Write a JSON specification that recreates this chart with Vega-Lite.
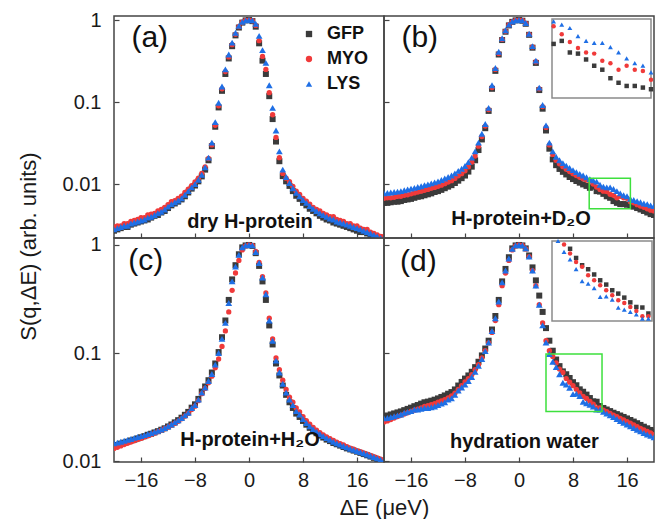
{
"$schema": "https://vega.github.io/schema/vega-lite/v6.json",
"background": "white",
"padding": {"left": 16, "top": 9, "right": 0, "bottom": 0},
"config": {
 "font": "Liberation Sans",
 "view": {"stroke": "#444", "strokeWidth": 1.5},
 "axis": {"domain": false, "grid": false, "ticks": true, "tickSize": -5, "tickColor": "#444", "tickWidth": 1.2, "labelFont": "Liberation Sans", "labelFontSize": 20, "labelColor": "#1a1a1a", "labelOverlap": false, "titleFont": "Liberation Sans", "titleFontSize": 22, "titleFontWeight": "normal", "titleColor": "#1a1a1a"},
 "axisLeft": {"labelPadding": 18},
 "axisBottom": {"labelPadding": 13},
 "legend": {"labelFont": "Liberation Sans", "labelFontSize": 18, "labelFontWeight": "bold", "labelColor": "#111", "symbolSize": 40, "rowPadding": 7, "labelOffset": 9, "padding": 0, "symbolStrokeWidth": 0}
},
"datasets": {
 "boxes": [
  {"p": "b", "x0": 10.4, "x1": 16.5, "y0": 0.005, "y1": 0.0118},
  {"p": "d", "x0": 4.0, "x1": 12.3, "y0": 0.0288, "y1": 0.098}
 ],
 "labels": [
  {"p": "a", "tag": "(a)", "name": "dry H-protein"},
  {"p": "b", "tag": "(b)", "name": "H-protein+D₂O"},
  {"p": "c", "tag": "(c)", "name": "H-protein+H₂O"},
  {"p": "d", "tag": "(d)", "name": "hydration water"}
 ],
 "curves": [
  {"p":"a","x":-20,"GFP":0.0027,"MYO":0.0030,"LYS":0.0028},
  {"p":"a","x":-19.5,"GFP":0.0028,"MYO":0.0031,"LYS":0.0029},
  {"p":"a","x":-19,"GFP":0.0029,"MYO":0.0031,"LYS":0.0030},
  {"p":"a","x":-18.5,"GFP":0.0030,"MYO":0.0033,"LYS":0.0031},
  {"p":"a","x":-18,"GFP":0.0030,"MYO":0.0033,"LYS":0.0031},
  {"p":"a","x":-17.5,"GFP":0.0032,"MYO":0.0035,"LYS":0.0033},
  {"p":"a","x":-17,"GFP":0.0033,"MYO":0.0036,"LYS":0.0034},
  {"p":"a","x":-16.5,"GFP":0.0034,"MYO":0.0037,"LYS":0.0035},
  {"p":"a","x":-16,"GFP":0.0035,"MYO":0.0039,"LYS":0.0036},
  {"p":"a","x":-15.5,"GFP":0.0036,"MYO":0.0039,"LYS":0.0037},
  {"p":"a","x":-15,"GFP":0.0037,"MYO":0.0042,"LYS":0.0039},
  {"p":"a","x":-14.5,"GFP":0.0039,"MYO":0.0043,"LYS":0.0040},
  {"p":"a","x":-14,"GFP":0.0041,"MYO":0.0044,"LYS":0.0042},
  {"p":"a","x":-13.5,"GFP":0.0042,"MYO":0.0047,"LYS":0.0044},
  {"p":"a","x":-13,"GFP":0.0045,"MYO":0.0049,"LYS":0.0046},
  {"p":"a","x":-12.5,"GFP":0.0047,"MYO":0.0052,"LYS":0.0049},
  {"p":"a","x":-12,"GFP":0.0051,"MYO":0.0056,"LYS":0.0053},
  {"p":"a","x":-11.5,"GFP":0.0055,"MYO":0.0061,"LYS":0.0057},
  {"p":"a","x":-11,"GFP":0.0058,"MYO":0.0063,"LYS":0.0060},
  {"p":"a","x":-10.5,"GFP":0.0061,"MYO":0.0067,"LYS":0.0063},
  {"p":"a","x":-10,"GFP":0.0065,"MYO":0.0071,"LYS":0.0067},
  {"p":"a","x":-9.5,"GFP":0.0071,"MYO":0.0079,"LYS":0.0074},
  {"p":"a","x":-9,"GFP":0.0079,"MYO":0.0087,"LYS":0.0082},
  {"p":"a","x":-8.5,"GFP":0.0088,"MYO":0.0096,"LYS":0.0091},
  {"p":"a","x":-8,"GFP":0.0096,"MYO":0.0106,"LYS":0.0100},
  {"p":"a","x":-7.5,"GFP":0.0108,"MYO":0.0118,"LYS":0.0113},
  {"p":"a","x":-7,"GFP":0.0124,"MYO":0.0135,"LYS":0.0130},
  {"p":"a","x":-6.5,"GFP":0.0150,"MYO":0.0162,"LYS":0.0160},
  {"p":"a","x":-6,"GFP":0.0195,"MYO":0.0205,"LYS":0.0210},
  {"p":"a","x":-5.5,"GFP":0.029,"MYO":0.030,"LYS":0.032},
  {"p":"a","x":-5,"GFP":0.050,"MYO":0.052,"LYS":0.057},
  {"p":"a","x":-4.5,"GFP":0.086,"MYO":0.090,"LYS":0.098},
  {"p":"a","x":-4,"GFP":0.137,"MYO":0.145,"LYS":0.155},
  {"p":"a","x":-3.5,"GFP":0.22,"MYO":0.235,"LYS":0.25},
  {"p":"a","x":-3,"GFP":0.34,"MYO":0.355,"LYS":0.38},
  {"p":"a","x":-2.5,"GFP":0.48,"MYO":0.50,"LYS":0.53},
  {"p":"a","x":-2,"GFP":0.65,"MYO":0.67,"LYS":0.70},
  {"p":"a","x":-1.5,"GFP":0.81,"MYO":0.83,"LYS":0.85},
  {"p":"a","x":-1,"GFP":0.93,"MYO":0.94,"LYS":0.95},
  {"p":"a","x":-0.5,"GFP":0.99,"MYO":0.99,"LYS":0.99},
  {"p":"a","x":0,"GFP":1,"MYO":1,"LYS":1},
  {"p":"a","x":0.5,"GFP":0.97,"MYO":0.98,"LYS":0.99},
  {"p":"a","x":1,"GFP":0.83,"MYO":0.86,"LYS":0.90},
  {"p":"a","x":1.5,"GFP":0.52,"MYO":0.56,"LYS":0.64},
  {"p":"a","x":2,"GFP":0.32,"MYO":0.36,"LYS":0.43},
  {"p":"a","x":2.5,"GFP":0.22,"MYO":0.25,"LYS":0.30},
  {"p":"a","x":3,"GFP":0.118,"MYO":0.13,"LYS":0.16},
  {"p":"a","x":3.5,"GFP":0.062,"MYO":0.070,"LYS":0.085},
  {"p":"a","x":4,"GFP":0.033,"MYO":0.037,"LYS":0.045},
  {"p":"a","x":4.5,"GFP":0.019,"MYO":0.021,"LYS":0.025},
  {"p":"a","x":5,"GFP":0.0125,"MYO":0.0135,"LYS":0.0150},
  {"p":"a","x":5.5,"GFP":0.0108,"MYO":0.0118,"LYS":0.0122},
  {"p":"a","x":6,"GFP":0.0095,"MYO":0.0107,"LYS":0.0103},
  {"p":"a","x":6.5,"GFP":0.0082,"MYO":0.0094,"LYS":0.0089},
  {"p":"a","x":7,"GFP":0.0072,"MYO":0.0082,"LYS":0.0078},
  {"p":"a","x":7.5,"GFP":0.0066,"MYO":0.0075,"LYS":0.0071},
  {"p":"a","x":8,"GFP":0.0059,"MYO":0.0067,"LYS":0.0064},
  {"p":"a","x":8.5,"GFP":0.0055,"MYO":0.0062,"LYS":0.0059},
  {"p":"a","x":9,"GFP":0.0050,"MYO":0.0057,"LYS":0.0054},
  {"p":"a","x":9.5,"GFP":0.0047,"MYO":0.0052,"LYS":0.0050},
  {"p":"a","x":10,"GFP":0.0044,"MYO":0.0049,"LYS":0.0047},
  {"p":"a","x":10.5,"GFP":0.0041,"MYO":0.0047,"LYS":0.0044},
  {"p":"a","x":11,"GFP":0.0039,"MYO":0.0044,"LYS":0.0042},
  {"p":"a","x":11.5,"GFP":0.0037,"MYO":0.0042,"LYS":0.0040},
  {"p":"a","x":12,"GFP":0.0036,"MYO":0.0040,"LYS":0.0038},
  {"p":"a","x":12.5,"GFP":0.0034,"MYO":0.0040,"LYS":0.0037},
  {"p":"a","x":13,"GFP":0.0033,"MYO":0.0037,"LYS":0.0035},
  {"p":"a","x":13.5,"GFP":0.0032,"MYO":0.0036,"LYS":0.0034},
  {"p":"a","x":14,"GFP":0.0031,"MYO":0.0035,"LYS":0.0033},
  {"p":"a","x":14.5,"GFP":0.0030,"MYO":0.0033,"LYS":0.0032},
  {"p":"a","x":15,"GFP":0.0029,"MYO":0.0033,"LYS":0.0031},
  {"p":"a","x":15.5,"GFP":0.0028,"MYO":0.0031,"LYS":0.0030},
  {"p":"a","x":16,"GFP":0.0027,"MYO":0.0031,"LYS":0.0029},
  {"p":"a","x":16.5,"GFP":0.0026,"MYO":0.0029,"LYS":0.0028},
  {"p":"a","x":17,"GFP":0.0026,"MYO":0.0028,"LYS":0.0027},
  {"p":"a","x":17.5,"GFP":0.0025,"MYO":0.0028,"LYS":0.0026},
  {"p":"a","x":18,"GFP":0.0024,"MYO":0.0026,"LYS":0.0025},
  {"p":"a","x":18.5,"GFP":0.0023,"MYO":0.0025,"LYS":0.0024},
  {"p":"a","x":19,"GFP":0.0022,"MYO":0.0024,"LYS":0.0023},
  {"p":"a","x":19.5,"GFP":0.0021,"MYO":0.0023,"LYS":0.0022},
  {"p":"a","x":20,"GFP":0.0021,"MYO":0.0023,"LYS":0.0022},

  {"p":"b","x":-20,"GFP":0.0059,"MYO":0.0067,"LYS":0.0077},
  {"p":"b","x":-19.5,"GFP":0.0059,"MYO":0.0068,"LYS":0.0078},
  {"p":"b","x":-19,"GFP":0.0060,"MYO":0.0068,"LYS":0.0079},
  {"p":"b","x":-18.5,"GFP":0.0061,"MYO":0.0069,"LYS":0.0080},
  {"p":"b","x":-18,"GFP":0.0061,"MYO":0.0071,"LYS":0.0081},
  {"p":"b","x":-17.5,"GFP":0.0062,"MYO":0.0071,"LYS":0.0082},
  {"p":"b","x":-17,"GFP":0.0064,"MYO":0.0073,"LYS":0.0084},
  {"p":"b","x":-16.5,"GFP":0.0065,"MYO":0.0074,"LYS":0.0086},
  {"p":"b","x":-16,"GFP":0.0066,"MYO":0.0076,"LYS":0.0088},
  {"p":"b","x":-15.5,"GFP":0.0068,"MYO":0.0078,"LYS":0.0090},
  {"p":"b","x":-15,"GFP":0.0070,"MYO":0.0080,"LYS":0.0092},
  {"p":"b","x":-14.5,"GFP":0.0071,"MYO":0.0082,"LYS":0.0094},
  {"p":"b","x":-14,"GFP":0.0073,"MYO":0.0084,"LYS":0.0097},
  {"p":"b","x":-13.5,"GFP":0.0075,"MYO":0.0086,"LYS":0.0099},
  {"p":"b","x":-13,"GFP":0.0077,"MYO":0.0089,"LYS":0.0102},
  {"p":"b","x":-12.5,"GFP":0.0080,"MYO":0.0091,"LYS":0.0105},
  {"p":"b","x":-12,"GFP":0.0082,"MYO":0.0094,"LYS":0.0108},
  {"p":"b","x":-11.5,"GFP":0.0085,"MYO":0.0097,"LYS":0.0112},
  {"p":"b","x":-11,"GFP":0.0089,"MYO":0.0101,"LYS":0.0117},
  {"p":"b","x":-10.5,"GFP":0.0093,"MYO":0.0106,"LYS":0.0122},
  {"p":"b","x":-10,"GFP":0.0097,"MYO":0.0110,"LYS":0.0127},
  {"p":"b","x":-9.5,"GFP":0.0103,"MYO":0.0117,"LYS":0.0135},
  {"p":"b","x":-9,"GFP":0.0110,"MYO":0.0126,"LYS":0.0145},
  {"p":"b","x":-8.5,"GFP":0.0118,"MYO":0.0134,"LYS":0.0154},
  {"p":"b","x":-8,"GFP":0.0127,"MYO":0.0145,"LYS":0.0166},
  {"p":"b","x":-7.5,"GFP":0.0142,"MYO":0.0162,"LYS":0.0185},
  {"p":"b","x":-7,"GFP":0.0163,"MYO":0.0185,"LYS":0.021},
  {"p":"b","x":-6.5,"GFP":0.0195,"MYO":0.022,"LYS":0.025},
  {"p":"b","x":-6,"GFP":0.026,"MYO":0.029,"LYS":0.032},
  {"p":"b","x":-5.5,"GFP":0.035,"MYO":0.038,"LYS":0.041},
  {"p":"b","x":-5,"GFP":0.048,"MYO":0.051,"LYS":0.054},
  {"p":"b","x":-4.5,"GFP":0.078,"MYO":0.081,"LYS":0.085},
  {"p":"b","x":-4,"GFP":0.145,"MYO":0.15,"LYS":0.16},
  {"p":"b","x":-3.5,"GFP":0.24,"MYO":0.25,"LYS":0.26},
  {"p":"b","x":-3,"GFP":0.38,"MYO":0.39,"LYS":0.41},
  {"p":"b","x":-2.5,"GFP":0.57,"MYO":0.58,"LYS":0.60},
  {"p":"b","x":-2,"GFP":0.72,"MYO":0.73,"LYS":0.75},
  {"p":"b","x":-1.5,"GFP":0.86,"MYO":0.87,"LYS":0.88},
  {"p":"b","x":-1,"GFP":0.95,"MYO":0.95,"LYS":0.96},
  {"p":"b","x":-0.5,"GFP":0.99,"MYO":0.99,"LYS":0.99},
  {"p":"b","x":0,"GFP":1,"MYO":1,"LYS":1},
  {"p":"b","x":0.5,"GFP":0.98,"MYO":0.99,"LYS":0.99},
  {"p":"b","x":1,"GFP":0.90,"MYO":0.91,"LYS":0.92},
  {"p":"b","x":1.5,"GFP":0.66,"MYO":0.67,"LYS":0.68},
  {"p":"b","x":2,"GFP":0.46,"MYO":0.47,"LYS":0.48},
  {"p":"b","x":2.5,"GFP":0.30,"MYO":0.31,"LYS":0.32},
  {"p":"b","x":3,"GFP":0.14,"MYO":0.145,"LYS":0.15},
  {"p":"b","x":3.5,"GFP":0.083,"MYO":0.088,"LYS":0.092},
  {"p":"b","x":4,"GFP":0.045,"MYO":0.049,"LYS":0.052},
  {"p":"b","x":4.5,"GFP":0.027,"MYO":0.030,"LYS":0.032},
  {"p":"b","x":5,"GFP":0.020,"MYO":0.023,"LYS":0.025},
  {"p":"b","x":5.5,"GFP":0.0170,"MYO":0.0195,"LYS":0.0215},
  {"p":"b","x":6,"GFP":0.0153,"MYO":0.0177,"LYS":0.0195},
  {"p":"b","x":6.5,"GFP":0.0141,"MYO":0.0163,"LYS":0.0180},
  {"p":"b","x":7,"GFP":0.0131,"MYO":0.0152,"LYS":0.0168},
  {"p":"b","x":7.5,"GFP":0.0122,"MYO":0.0142,"LYS":0.0157},
  {"p":"b","x":8,"GFP":0.0115,"MYO":0.0134,"LYS":0.0148},
  {"p":"b","x":8.5,"GFP":0.0109,"MYO":0.0127,"LYS":0.0140},
  {"p":"b","x":9,"GFP":0.0104,"MYO":0.0121,"LYS":0.0133},
  {"p":"b","x":9.5,"GFP":0.0099,"MYO":0.0116,"LYS":0.0127},
  {"p":"b","x":10,"GFP":0.0095,"MYO":0.0112,"LYS":0.0121},
  {"p":"b","x":10.5,"GFP":0.0090,"MYO":0.0109,"LYS":0.0115},
  {"p":"b","x":11,"GFP":0.0093,"MYO":0.0100,"LYS":0.0111},
  {"p":"b","x":11.5,"GFP":0.0082,"MYO":0.0092,"LYS":0.0107},
  {"p":"b","x":12,"GFP":0.0081,"MYO":0.0086,"LYS":0.0098},
  {"p":"b","x":12.5,"GFP":0.0076,"MYO":0.0082,"LYS":0.0093},
  {"p":"b","x":13,"GFP":0.0071,"MYO":0.0081,"LYS":0.0091},
  {"p":"b","x":13.5,"GFP":0.0068,"MYO":0.0075,"LYS":0.0091},
  {"p":"b","x":14,"GFP":0.0062,"MYO":0.0073,"LYS":0.0087},
  {"p":"b","x":14.5,"GFP":0.0059,"MYO":0.0068,"LYS":0.0082},
  {"p":"b","x":15,"GFP":0.0057,"MYO":0.0071,"LYS":0.0077},
  {"p":"b","x":15.5,"GFP":0.0057,"MYO":0.0068,"LYS":0.0073},
  {"p":"b","x":16,"GFP":0.0056,"MYO":0.0067,"LYS":0.0071},
  {"p":"b","x":16.5,"GFP":0.0055,"MYO":0.0061,"LYS":0.0066},
  {"p":"b","x":17,"GFP":0.0053,"MYO":0.0059,"LYS":0.0064},
  {"p":"b","x":17.5,"GFP":0.0051,"MYO":0.0056,"LYS":0.0062},
  {"p":"b","x":18,"GFP":0.0049,"MYO":0.0054,"LYS":0.0060},
  {"p":"b","x":18.5,"GFP":0.0047,"MYO":0.0052,"LYS":0.0058},
  {"p":"b","x":19,"GFP":0.0045,"MYO":0.0050,"LYS":0.0057},
  {"p":"b","x":19.5,"GFP":0.0043,"MYO":0.0048,"LYS":0.0055},
  {"p":"b","x":20,"GFP":0.0042,"MYO":0.0047,"LYS":0.0054},

  {"p":"c","x":-20,"GFP":0.0138,"MYO":0.0131,"LYS":0.0146},
  {"p":"c","x":-19.5,"GFP":0.0141,"MYO":0.0134,"LYS":0.0148},
  {"p":"c","x":-19,"GFP":0.0145,"MYO":0.0138,"LYS":0.0151},
  {"p":"c","x":-18.5,"GFP":0.0148,"MYO":0.0142,"LYS":0.0154},
  {"p":"c","x":-18,"GFP":0.0151,"MYO":0.0146,"LYS":0.0157},
  {"p":"c","x":-17.5,"GFP":0.0155,"MYO":0.0150,"LYS":0.0160},
  {"p":"c","x":-17,"GFP":0.0158,"MYO":0.0154,"LYS":0.0164},
  {"p":"c","x":-16.5,"GFP":0.0162,"MYO":0.0158,"LYS":0.0167},
  {"p":"c","x":-16,"GFP":0.0166,"MYO":0.0162,"LYS":0.0170},
  {"p":"c","x":-15.5,"GFP":0.0170,"MYO":0.0167,"LYS":0.0174},
  {"p":"c","x":-15,"GFP":0.0175,"MYO":0.0171,"LYS":0.0178},
  {"p":"c","x":-14.5,"GFP":0.0179,"MYO":0.0176,"LYS":0.0182},
  {"p":"c","x":-14,"GFP":0.0184,"MYO":0.0181,"LYS":0.0186},
  {"p":"c","x":-13.5,"GFP":0.0189,"MYO":0.0187,"LYS":0.0190},
  {"p":"c","x":-13,"GFP":0.0195,"MYO":0.0193,"LYS":0.0196},
  {"p":"c","x":-12.5,"GFP":0.0201,"MYO":0.0199,"LYS":0.0202},
  {"p":"c","x":-12,"GFP":0.0209,"MYO":0.0206,"LYS":0.0210},
  {"p":"c","x":-11.5,"GFP":0.0218,"MYO":0.0214,"LYS":0.0218},
  {"p":"c","x":-11,"GFP":0.0228,"MYO":0.0223,"LYS":0.0228},
  {"p":"c","x":-10.5,"GFP":0.0239,"MYO":0.0233,"LYS":0.0238},
  {"p":"c","x":-10,"GFP":0.0252,"MYO":0.0246,"LYS":0.0250},
  {"p":"c","x":-9.5,"GFP":0.0268,"MYO":0.0260,"LYS":0.0265},
  {"p":"c","x":-9,"GFP":0.0285,"MYO":0.0276,"LYS":0.0280},
  {"p":"c","x":-8.5,"GFP":0.0312,"MYO":0.0300,"LYS":0.0310},
  {"p":"c","x":-8,"GFP":0.0335,"MYO":0.0322,"LYS":0.0330},
  {"p":"c","x":-7.5,"GFP":0.0376,"MYO":0.0362,"LYS":0.0370},
  {"p":"c","x":-7,"GFP":0.044,"MYO":0.042,"LYS":0.043},
  {"p":"c","x":-6.5,"GFP":0.049,"MYO":0.047,"LYS":0.048},
  {"p":"c","x":-6,"GFP":0.056,"MYO":0.053,"LYS":0.055},
  {"p":"c","x":-5.5,"GFP":0.066,"MYO":0.061,"LYS":0.064},
  {"p":"c","x":-5,"GFP":0.080,"MYO":0.073,"LYS":0.078},
  {"p":"c","x":-4.5,"GFP":0.102,"MYO":0.088,"LYS":0.100},
  {"p":"c","x":-4,"GFP":0.140,"MYO":0.115,"LYS":0.135},
  {"p":"c","x":-3.5,"GFP":0.20,"MYO":0.16,"LYS":0.19},
  {"p":"c","x":-3,"GFP":0.31,"MYO":0.24,"LYS":0.29},
  {"p":"c","x":-2.5,"GFP":0.48,"MYO":0.38,"LYS":0.46},
  {"p":"c","x":-2,"GFP":0.65,"MYO":0.55,"LYS":0.63},
  {"p":"c","x":-1.5,"GFP":0.82,"MYO":0.72,"LYS":0.81},
  {"p":"c","x":-1,"GFP":0.95,"MYO":0.90,"LYS":0.95},
  {"p":"c","x":-0.5,"GFP":0.99,"MYO":0.98,"LYS":0.99},
  {"p":"c","x":0,"GFP":1,"MYO":1,"LYS":1},
  {"p":"c","x":0.5,"GFP":0.98,"MYO":0.99,"LYS":0.99},
  {"p":"c","x":1,"GFP":0.84,"MYO":0.87,"LYS":0.86},
  {"p":"c","x":1.5,"GFP":0.64,"MYO":0.69,"LYS":0.68},
  {"p":"c","x":2,"GFP":0.46,"MYO":0.51,"LYS":0.50},
  {"p":"c","x":2.5,"GFP":0.31,"MYO":0.36,"LYS":0.35},
  {"p":"c","x":3,"GFP":0.18,"MYO":0.21,"LYS":0.20},
  {"p":"c","x":3.5,"GFP":0.12,"MYO":0.135,"LYS":0.13},
  {"p":"c","x":4,"GFP":0.080,"MYO":0.090,"LYS":0.085},
  {"p":"c","x":4.5,"GFP":0.062,"MYO":0.070,"LYS":0.066},
  {"p":"c","x":5,"GFP":0.050,"MYO":0.056,"LYS":0.052},
  {"p":"c","x":5.5,"GFP":0.041,"MYO":0.046,"LYS":0.043},
  {"p":"c","x":6,"GFP":0.035,"MYO":0.039,"LYS":0.037},
  {"p":"c","x":6.5,"GFP":0.031,"MYO":0.035,"LYS":0.033},
  {"p":"c","x":7,"GFP":0.0275,"MYO":0.031,"LYS":0.029},
  {"p":"c","x":7.5,"GFP":0.0256,"MYO":0.0285,"LYS":0.027},
  {"p":"c","x":8,"GFP":0.0235,"MYO":0.0258,"LYS":0.0245},
  {"p":"c","x":8.5,"GFP":0.0217,"MYO":0.0236,"LYS":0.0225},
  {"p":"c","x":9,"GFP":0.0203,"MYO":0.0220,"LYS":0.0210},
  {"p":"c","x":9.5,"GFP":0.0190,"MYO":0.0205,"LYS":0.0197},
  {"p":"c","x":10,"GFP":0.0181,"MYO":0.0193,"LYS":0.0187},
  {"p":"c","x":10.5,"GFP":0.0172,"MYO":0.0183,"LYS":0.0178},
  {"p":"c","x":11,"GFP":0.0165,"MYO":0.0175,"LYS":0.0170},
  {"p":"c","x":11.5,"GFP":0.0158,"MYO":0.0167,"LYS":0.0163},
  {"p":"c","x":12,"GFP":0.0153,"MYO":0.0161,"LYS":0.0157},
  {"p":"c","x":12.5,"GFP":0.0147,"MYO":0.0155,"LYS":0.0151},
  {"p":"c","x":13,"GFP":0.0143,"MYO":0.0150,"LYS":0.0146},
  {"p":"c","x":13.5,"GFP":0.0139,"MYO":0.0145,"LYS":0.0142},
  {"p":"c","x":14,"GFP":0.0135,"MYO":0.0141,"LYS":0.0138},
  {"p":"c","x":14.5,"GFP":0.0131,"MYO":0.0136,"LYS":0.0134},
  {"p":"c","x":15,"GFP":0.0128,"MYO":0.0132,"LYS":0.0130},
  {"p":"c","x":15.5,"GFP":0.0125,"MYO":0.0129,"LYS":0.0127},
  {"p":"c","x":16,"GFP":0.0122,"MYO":0.0125,"LYS":0.0124},
  {"p":"c","x":16.5,"GFP":0.0119,"MYO":0.0122,"LYS":0.0121},
  {"p":"c","x":17,"GFP":0.0116,"MYO":0.0119,"LYS":0.0118},
  {"p":"c","x":17.5,"GFP":0.0113,"MYO":0.0116,"LYS":0.0115},
  {"p":"c","x":18,"GFP":0.0110,"MYO":0.0113,"LYS":0.0112},
  {"p":"c","x":18.5,"GFP":0.0107,"MYO":0.0110,"LYS":0.0109},
  {"p":"c","x":19,"GFP":0.0104,"MYO":0.0107,"LYS":0.0106},
  {"p":"c","x":19.5,"GFP":0.0101,"MYO":0.0104,"LYS":0.0103},
  {"p":"c","x":20,"GFP":0.0099,"MYO":0.0101,"LYS":0.0101},

  {"p":"d","x":-20,"GFP":0.0260,"MYO":0.0230,"LYS":0.0248},
  {"p":"d","x":-19.5,"GFP":0.0264,"MYO":0.0235,"LYS":0.0250},
  {"p":"d","x":-19,"GFP":0.0270,"MYO":0.0242,"LYS":0.0255},
  {"p":"d","x":-18.5,"GFP":0.0276,"MYO":0.0250,"LYS":0.0260},
  {"p":"d","x":-18,"GFP":0.0282,"MYO":0.0258,"LYS":0.0265},
  {"p":"d","x":-17.5,"GFP":0.0288,"MYO":0.0265,"LYS":0.0270},
  {"p":"d","x":-17,"GFP":0.0296,"MYO":0.0272,"LYS":0.0280},
  {"p":"d","x":-16.5,"GFP":0.0304,"MYO":0.0280,"LYS":0.0285},
  {"p":"d","x":-16,"GFP":0.0312,"MYO":0.0288,"LYS":0.0290},
  {"p":"d","x":-15.5,"GFP":0.0322,"MYO":0.0296,"LYS":0.0300},
  {"p":"d","x":-15,"GFP":0.0330,"MYO":0.0303,"LYS":0.0300},
  {"p":"d","x":-14.5,"GFP":0.0340,"MYO":0.0311,"LYS":0.0305},
  {"p":"d","x":-14,"GFP":0.0350,"MYO":0.0320,"LYS":0.0310},
  {"p":"d","x":-13.5,"GFP":0.0355,"MYO":0.0326,"LYS":0.0310},
  {"p":"d","x":-13,"GFP":0.0362,"MYO":0.0333,"LYS":0.0315},
  {"p":"d","x":-12.5,"GFP":0.0370,"MYO":0.0340,"LYS":0.0320},
  {"p":"d","x":-12,"GFP":0.0380,"MYO":0.0350,"LYS":0.0330},
  {"p":"d","x":-11.5,"GFP":0.0392,"MYO":0.0360,"LYS":0.0340},
  {"p":"d","x":-11,"GFP":0.0405,"MYO":0.0370,"LYS":0.0350},
  {"p":"d","x":-10.5,"GFP":0.0420,"MYO":0.0385,"LYS":0.0370},
  {"p":"d","x":-10,"GFP":0.0435,"MYO":0.0400,"LYS":0.0380},
  {"p":"d","x":-9.5,"GFP":0.0460,"MYO":0.0425,"LYS":0.0410},
  {"p":"d","x":-9,"GFP":0.050,"MYO":0.046,"LYS":0.045},
  {"p":"d","x":-8.5,"GFP":0.054,"MYO":0.050,"LYS":0.048},
  {"p":"d","x":-8,"GFP":0.058,"MYO":0.054,"LYS":0.051},
  {"p":"d","x":-7.5,"GFP":0.062,"MYO":0.058,"LYS":0.055},
  {"p":"d","x":-7,"GFP":0.067,"MYO":0.063,"LYS":0.060},
  {"p":"d","x":-6.5,"GFP":0.074,"MYO":0.070,"LYS":0.067},
  {"p":"d","x":-6,"GFP":0.083,"MYO":0.078,"LYS":0.076},
  {"p":"d","x":-5.5,"GFP":0.095,"MYO":0.090,"LYS":0.088},
  {"p":"d","x":-5,"GFP":0.110,"MYO":0.105,"LYS":0.104},
  {"p":"d","x":-4.5,"GFP":0.130,"MYO":0.124,"LYS":0.125},
  {"p":"d","x":-4,"GFP":0.165,"MYO":0.155,"LYS":0.16},
  {"p":"d","x":-3.5,"GFP":0.22,"MYO":0.20,"LYS":0.21},
  {"p":"d","x":-3,"GFP":0.31,"MYO":0.28,"LYS":0.30},
  {"p":"d","x":-2.5,"GFP":0.46,"MYO":0.42,"LYS":0.45},
  {"p":"d","x":-2,"GFP":0.60,"MYO":0.55,"LYS":0.58},
  {"p":"d","x":-1.5,"GFP":0.77,"MYO":0.72,"LYS":0.75},
  {"p":"d","x":-1,"GFP":0.93,"MYO":0.90,"LYS":0.92},
  {"p":"d","x":-0.5,"GFP":0.99,"MYO":0.98,"LYS":0.99},
  {"p":"d","x":0,"GFP":1,"MYO":1,"LYS":1},
  {"p":"d","x":0.5,"GFP":0.99,"MYO":0.99,"LYS":0.99},
  {"p":"d","x":1,"GFP":0.93,"MYO":0.92,"LYS":0.93},
  {"p":"d","x":1.5,"GFP":0.80,"MYO":0.78,"LYS":0.78},
  {"p":"d","x":2,"GFP":0.62,"MYO":0.58,"LYS":0.58},
  {"p":"d","x":2.5,"GFP":0.47,"MYO":0.42,"LYS":0.42},
  {"p":"d","x":3,"GFP":0.34,"MYO":0.28,"LYS":0.28},
  {"p":"d","x":3.5,"GFP":0.24,"MYO":0.19,"LYS":0.18},
  {"p":"d","x":4,"GFP":0.17,"MYO":0.13,"LYS":0.125},
  {"p":"d","x":4.5,"GFP":0.13,"MYO":0.105,"LYS":0.098},
  {"p":"d","x":5,"GFP":0.105,"MYO":0.093,"LYS":0.083},
  {"p":"d","x":5.5,"GFP":0.087,"MYO":0.081,"LYS":0.074},
  {"p":"d","x":6,"GFP":0.0756,"MYO":0.071,"LYS":0.0636},
  {"p":"d","x":6.5,"GFP":0.0676,"MYO":0.066,"LYS":0.053},
  {"p":"d","x":7,"GFP":0.0636,"MYO":0.058,"LYS":0.051},
  {"p":"d","x":7.5,"GFP":0.0587,"MYO":0.0537,"LYS":0.0477},
  {"p":"d","x":8,"GFP":0.0537,"MYO":0.0498,"LYS":0.0416},
  {"p":"d","x":8.5,"GFP":0.0503,"MYO":0.0461,"LYS":0.042},
  {"p":"d","x":9,"GFP":0.0461,"MYO":0.0427,"LYS":0.040},
  {"p":"d","x":9.5,"GFP":0.0438,"MYO":0.0396,"LYS":0.0354},
  {"p":"d","x":10,"GFP":0.0412,"MYO":0.038,"LYS":0.0343},
  {"p":"d","x":10.5,"GFP":0.0383,"MYO":0.0357,"LYS":0.0331},
  {"p":"d","x":11,"GFP":0.0357,"MYO":0.0336,"LYS":0.0319},
  {"p":"d","x":11.5,"GFP":0.0354,"MYO":0.031,"LYS":0.0299},
  {"p":"d","x":12,"GFP":0.0323,"MYO":0.031,"LYS":0.0299},
  {"p":"d","x":12.5,"GFP":0.031,"MYO":0.0296,"LYS":0.0285},
  {"p":"d","x":13,"GFP":0.030,"MYO":0.0286,"LYS":0.0275},
  {"p":"d","x":13.5,"GFP":0.029,"MYO":0.0276,"LYS":0.0265},
  {"p":"d","x":14,"GFP":0.028,"MYO":0.0266,"LYS":0.0255},
  {"p":"d","x":14.5,"GFP":0.0272,"MYO":0.0257,"LYS":0.0245},
  {"p":"d","x":15,"GFP":0.0264,"MYO":0.0248,"LYS":0.0235},
  {"p":"d","x":15.5,"GFP":0.0256,"MYO":0.024,"LYS":0.0226},
  {"p":"d","x":16,"GFP":0.0248,"MYO":0.0232,"LYS":0.0218},
  {"p":"d","x":16.5,"GFP":0.024,"MYO":0.0224,"LYS":0.021},
  {"p":"d","x":17,"GFP":0.0232,"MYO":0.0216,"LYS":0.0202},
  {"p":"d","x":17.5,"GFP":0.0224,"MYO":0.0208,"LYS":0.0195},
  {"p":"d","x":18,"GFP":0.0216,"MYO":0.0201,"LYS":0.0188},
  {"p":"d","x":18.5,"GFP":0.0208,"MYO":0.0194,"LYS":0.0182},
  {"p":"d","x":19,"GFP":0.0201,"MYO":0.0188,"LYS":0.0176},
  {"p":"d","x":19.5,"GFP":0.0194,"MYO":0.0182,"LYS":0.0171},
  {"p":"d","x":20,"GFP":0.0187,"MYO":0.0176,"LYS":0.0166}
 ]
},
"bounds": "flush",
"spacing": 0,
"columns": 2,
"resolve": {"scale": {"color": "independent", "shape": "independent"}},
"concat": [
   {
    "width": 270, "height": 222,
    "layer": [
     {
      "data": {"name": "curves"},
      "transform": [{"filter": "datum.p === 'a'"}],
      "encoding": {
       "x": {"field": "x", "type": "quantitative", "scale": {"domain": [-20, 20], "nice": false, "zero": false}, "axis": {"values": [-16,-12,-8,-4,0,4,8,12,16], "labels": false, "title": null}},
       "y": {"field": "S", "type": "quantitative", "scale": {"type": "log", "domain": [0.0022, 1.12], "nice": false}, "axis": {"values": [0.01, 0.1, 1], "format": "~g", "title": "S(q,ΔE) (arb. units)", "titleX": -86, "titleY": 230, "titleAngle": -90, "titleAlign": "center", "titleBaseline": "middle"}},
       "color": {"field": "series", "type": "nominal", "scale": {"domain": ["GFP","MYO","LYS"], "range": ["#3b3b3b","#f03a3a","#1f6fe5"]}, "legend": {"title": null, "orient": "none", "legendX": 186, "legendY": 9}},
       "shape": {"field": "series", "type": "nominal", "scale": {"domain": ["GFP","MYO","LYS"], "range": ["square","circle","triangle-up"]}, "legend": {"title": null, "orient": "none", "legendX": 186, "legendY": 9}}
      },
      "layer": [
       {"transform": [{"fold": ["GFP"], "as": ["series", "S"]}], "mark": {"type": "point", "filled": true, "opacity": 1, "size": 36, "clip": true}},
       {"transform": [{"fold": ["MYO"], "as": ["series", "S"]}], "mark": {"type": "point", "filled": true, "opacity": 1, "size": 28, "clip": true}},
       {"transform": [{"fold": ["LYS"], "as": ["series", "S"]}], "mark": {"type": "point", "filled": true, "opacity": 1, "size": 46, "clip": true}}
      ]
     },
     {"data": {"name": "labels"}, "transform": [{"filter": "datum.p === 'a'"}], "mark": {"type": "text", "fontSize": 30, "align": "center", "baseline": "middle", "color": "#111"}, "encoding": {"x": {"datum": -14.7, "type": "quantitative"}, "y": {"datum": 0.6, "type": "quantitative"}, "text": {"field": "tag"}}},
     {"data": {"name": "labels"}, "transform": [{"filter": "datum.p === 'a'"}], "mark": {"type": "text", "fontSize": 20, "fontWeight": "bold", "align": "center", "baseline": "alphabetic", "color": "#111"}, "encoding": {"x": {"datum": 0.15, "type": "quantitative"}, "y": {"datum": 0.00295, "type": "quantitative"}, "text": {"field": "name"}}}
    ]
   },
   {
    "width": 270, "height": 222,
    "resolve": {"scale": {"x": "independent", "y": "independent"}},
    "layer": [
     {
      "layer": [
       {
        "data": {"name": "curves"},
        "transform": [{"filter": "datum.p === 'b'"}],
        "encoding": {
         "x": {"field": "x", "type": "quantitative", "scale": {"domain": [-20, 20], "nice": false, "zero": false}, "axis": {"values": [-16,-12,-8,-4,0,4,8,12,16], "labels": false, "title": null}},
         "y": {"field": "S", "type": "quantitative", "scale": {"type": "log", "domain": [0.0022, 1.12], "nice": false}, "axis": {"values": [0.01, 0.1, 1], "labels": false, "title": null}},
         "color": {"field": "series", "type": "nominal", "scale": {"domain": ["GFP","MYO","LYS"], "range": ["#3b3b3b","#f03a3a","#1f6fe5"]}, "legend": null},
         "shape": {"field": "series", "type": "nominal", "scale": {"domain": ["GFP","MYO","LYS"], "range": ["square","circle","triangle-up"]}, "legend": null}
        },
        "layer": [
         {"transform": [{"fold": ["GFP"], "as": ["series", "S"]}], "mark": {"type": "point", "filled": true, "opacity": 1, "size": 36, "clip": true}},
         {"transform": [{"fold": ["MYO"], "as": ["series", "S"]}], "mark": {"type": "point", "filled": true, "opacity": 1, "size": 28, "clip": true}},
         {"transform": [{"fold": ["LYS"], "as": ["series", "S"]}], "mark": {"type": "point", "filled": true, "opacity": 1, "size": 46, "clip": true}}
        ]
       },
       {"data": {"name": "boxes"}, "transform": [{"filter": "datum.p === 'b'"}], "mark": {"type": "rect", "fillOpacity": 0, "stroke": "#3de03d", "strokeWidth": 1.5}, "encoding": {"x": {"field": "x0", "type": "quantitative"}, "x2": {"field": "x1"}, "y": {"field": "y0", "type": "quantitative"}, "y2": {"field": "y1"}}},
       {"data": {"name": "labels"}, "transform": [{"filter": "datum.p === 'b'"}], "mark": {"type": "text", "fontSize": 30, "align": "center", "baseline": "middle", "color": "#111"}, "encoding": {"x": {"datum": -14.7, "type": "quantitative"}, "y": {"datum": 0.6, "type": "quantitative"}, "text": {"field": "tag"}}},
       {"data": {"name": "labels"}, "transform": [{"filter": "datum.p === 'b'"}], "mark": {"type": "text", "fontSize": 20, "fontWeight": "bold", "align": "center", "baseline": "alphabetic", "color": "#111"}, "encoding": {"x": {"datum": 0.3, "type": "quantitative"}, "y": {"datum": 0.0032, "type": "quantitative"}, "text": {"field": "name"}}}
      ]
     },
     {
      "layer": [
       {"data": {"name": "boxes"}, "transform": [{"filter": "datum.p === 'b'"}], "mark": {"type": "rect", "fillOpacity": 0, "stroke": "#8a8a8a", "strokeWidth": 1.5}, "encoding": {"x": {"field": "x0", "type": "quantitative", "scale": {"domain": [10.4, 16.5], "range": [168, 267], "nice": false, "zero": false}, "axis": null}, "x2": {"field": "x1"}, "y": {"field": "y0", "type": "quantitative", "scale": {"type": "log", "domain": [0.005, 0.0118], "range": [82, 3], "nice": false}, "axis": null}, "y2": {"field": "y1"}}},
       {
        "data": {"name": "curves"},
        "transform": [{"filter": "datum.p === 'b' && datum.x >= 10.4 && datum.x <= 16.5"}],
        "encoding": {
         "x": {"field": "x", "type": "quantitative", "scale": {"domain": [10.4, 16.5], "range": [168, 267], "nice": false, "zero": false}, "axis": null},
         "y": {"field": "S", "type": "quantitative", "scale": {"type": "log", "domain": [0.005, 0.0118], "range": [82, 3], "nice": false}, "axis": null},
         "color": {"field": "series", "type": "nominal", "scale": {"domain": ["GFP","MYO","LYS"], "range": ["#3b3b3b","#f03a3a","#1f6fe5"]}, "legend": null},
         "shape": {"field": "series", "type": "nominal", "scale": {"domain": ["GFP","MYO","LYS"], "range": ["square","circle","triangle-up"]}, "legend": null}
        },
        "layer": [
         {"transform": [{"fold": ["GFP"], "as": ["series", "S"]}, {"filter": {"field": "S", "range": [0.005, 0.0118]}}], "mark": {"type": "point", "filled": true, "opacity": 1, "size": 20}},
         {"transform": [{"fold": ["MYO"], "as": ["series", "S"]}, {"filter": {"field": "S", "range": [0.005, 0.0118]}}], "mark": {"type": "point", "filled": true, "opacity": 1, "size": 20}},
         {"transform": [{"fold": ["LYS"], "as": ["series", "S"]}, {"filter": {"field": "S", "range": [0.005, 0.0118]}}], "mark": {"type": "point", "filled": true, "opacity": 1, "size": 24}}
        ]
       }
      ]
     }
    ]
   },
   {
    "width": 270, "height": 224,
    "layer": [
     {
      "data": {"name": "curves"},
      "transform": [{"filter": "datum.p === 'c'"}],
      "encoding": {
       "x": {"field": "x", "type": "quantitative", "scale": {"domain": [-20, 20], "nice": false, "zero": false}, "axis": {"values": [-16,-12,-8,-4,0,4,8,12,16], "labelExpr": "datum.value % 8 === 0 ? datum.label : ''", "title": "ΔE (μeV)", "titleX": 270, "titleY": 45, "titleAlign": "center", "titleBaseline": "middle"}},
       "y": {"field": "S", "type": "quantitative", "scale": {"type": "log", "domain": [0.0098, 1.16], "nice": false}, "axis": {"values": [0.01, 0.1, 1], "format": "~g", "title": null}},
       "color": {"field": "series", "type": "nominal", "scale": {"domain": ["GFP","MYO","LYS"], "range": ["#3b3b3b","#f03a3a","#1f6fe5"]}, "legend": null},
       "shape": {"field": "series", "type": "nominal", "scale": {"domain": ["GFP","MYO","LYS"], "range": ["square","circle","triangle-up"]}, "legend": null}
      },
      "layer": [
       {"transform": [{"fold": ["GFP"], "as": ["series", "S"]}], "mark": {"type": "point", "filled": true, "opacity": 1, "size": 36, "clip": true}},
       {"transform": [{"fold": ["MYO"], "as": ["series", "S"]}], "mark": {"type": "point", "filled": true, "opacity": 1, "size": 28, "clip": true}},
       {"transform": [{"fold": ["LYS"], "as": ["series", "S"]}], "mark": {"type": "point", "filled": true, "opacity": 1, "size": 46, "clip": true}}
      ]
     },
     {"data": {"name": "labels"}, "transform": [{"filter": "datum.p === 'c'"}], "mark": {"type": "text", "fontSize": 30, "align": "center", "baseline": "middle", "color": "#111"}, "encoding": {"x": {"datum": -15.3, "type": "quantitative"}, "y": {"datum": 0.71, "type": "quantitative"}, "text": {"field": "tag"}}},
     {"data": {"name": "labels"}, "transform": [{"filter": "datum.p === 'c'"}], "mark": {"type": "text", "fontSize": 20, "fontWeight": "bold", "align": "center", "baseline": "alphabetic", "color": "#111"}, "encoding": {"x": {"datum": 0.15, "type": "quantitative"}, "y": {"datum": 0.0138, "type": "quantitative"}, "text": {"field": "name"}}}
    ]
   },
   {
    "width": 270, "height": 224,
    "resolve": {"scale": {"x": "independent", "y": "independent"}},
    "layer": [
     {
      "layer": [
       {
        "data": {"name": "curves"},
        "transform": [{"filter": "datum.p === 'd'"}],
        "encoding": {
         "x": {"field": "x", "type": "quantitative", "scale": {"domain": [-20, 20], "nice": false, "zero": false}, "axis": {"values": [-16,-12,-8,-4,0,4,8,12,16], "labelExpr": "datum.value % 8 === 0 ? datum.label : ''", "title": null}},
         "y": {"field": "S", "type": "quantitative", "scale": {"type": "log", "domain": [0.0098, 1.16], "nice": false}, "axis": {"values": [0.01, 0.1, 1], "labels": false, "title": null}},
         "color": {"field": "series", "type": "nominal", "scale": {"domain": ["GFP","MYO","LYS"], "range": ["#3b3b3b","#f03a3a","#1f6fe5"]}, "legend": null},
         "shape": {"field": "series", "type": "nominal", "scale": {"domain": ["GFP","MYO","LYS"], "range": ["square","circle","triangle-up"]}, "legend": null}
        },
        "layer": [
         {"transform": [{"fold": ["GFP"], "as": ["series", "S"]}], "mark": {"type": "point", "filled": true, "opacity": 1, "size": 36, "clip": true}},
         {"transform": [{"fold": ["MYO"], "as": ["series", "S"]}], "mark": {"type": "point", "filled": true, "opacity": 1, "size": 28, "clip": true}},
         {"transform": [{"fold": ["LYS"], "as": ["series", "S"]}], "mark": {"type": "point", "filled": true, "opacity": 1, "size": 46, "clip": true}}
        ]
       },
       {"data": {"name": "boxes"}, "transform": [{"filter": "datum.p === 'd'"}], "mark": {"type": "rect", "fillOpacity": 0, "stroke": "#3de03d", "strokeWidth": 1.5}, "encoding": {"x": {"field": "x0", "type": "quantitative"}, "x2": {"field": "x1"}, "y": {"field": "y0", "type": "quantitative"}, "y2": {"field": "y1"}}},
       {"data": {"name": "labels"}, "transform": [{"filter": "datum.p === 'd'"}], "mark": {"type": "text", "fontSize": 30, "align": "center", "baseline": "middle", "color": "#111"}, "encoding": {"x": {"datum": -14.9, "type": "quantitative"}, "y": {"datum": 0.7, "type": "quantitative"}, "text": {"field": "tag"}}},
       {"data": {"name": "labels"}, "transform": [{"filter": "datum.p === 'd'"}], "mark": {"type": "text", "fontSize": 20, "fontWeight": "bold", "align": "center", "baseline": "alphabetic", "color": "#111"}, "encoding": {"x": {"datum": 0.8, "type": "quantitative"}, "y": {"datum": 0.0131, "type": "quantitative"}, "text": {"field": "name"}}}
      ]
     },
     {
      "layer": [
       {"data": {"name": "boxes"}, "transform": [{"filter": "datum.p === 'd'"}], "mark": {"type": "rect", "fillOpacity": 0, "stroke": "#8a8a8a", "strokeWidth": 1.5}, "encoding": {"x": {"field": "x0", "type": "quantitative", "scale": {"domain": [4.0, 12.3], "range": [168, 268], "nice": false, "zero": false}, "axis": null}, "x2": {"field": "x1"}, "y": {"field": "y0", "type": "quantitative", "scale": {"type": "log", "domain": [0.0288, 0.098], "range": [83, 3], "nice": false}, "axis": null}, "y2": {"field": "y1"}}},
       {
        "data": {"name": "curves"},
        "transform": [{"filter": "datum.p === 'd' && datum.x >= 4.0 && datum.x <= 12.3"}],
        "encoding": {
         "x": {"field": "x", "type": "quantitative", "scale": {"domain": [4.0, 12.3], "range": [168, 268], "nice": false, "zero": false}, "axis": null},
         "y": {"field": "S", "type": "quantitative", "scale": {"type": "log", "domain": [0.0288, 0.098], "range": [83, 3], "nice": false}, "axis": null},
         "color": {"field": "series", "type": "nominal", "scale": {"domain": ["GFP","MYO","LYS"], "range": ["#3b3b3b","#f03a3a","#1f6fe5"]}, "legend": null},
         "shape": {"field": "series", "type": "nominal", "scale": {"domain": ["GFP","MYO","LYS"], "range": ["square","circle","triangle-up"]}, "legend": null}
        },
        "layer": [
         {"transform": [{"fold": ["GFP"], "as": ["series", "S"]}, {"filter": {"field": "S", "range": [0.0288, 0.098]}}], "mark": {"type": "point", "filled": true, "opacity": 1, "size": 20}},
         {"transform": [{"fold": ["MYO"], "as": ["series", "S"]}, {"filter": {"field": "S", "range": [0.0288, 0.098]}}], "mark": {"type": "point", "filled": true, "opacity": 1, "size": 20}},
         {"transform": [{"fold": ["LYS"], "as": ["series", "S"]}, {"filter": {"field": "S", "range": [0.0288, 0.098]}}], "mark": {"type": "point", "filled": true, "opacity": 1, "size": 24}}
        ]
       }
      ]
     }
    ]
   }
]
}
